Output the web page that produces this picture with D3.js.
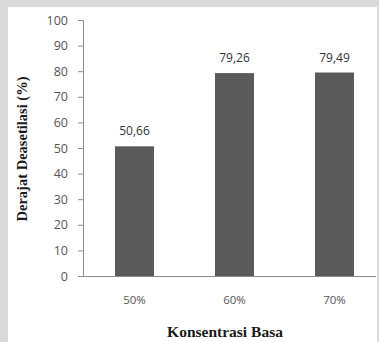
<!DOCTYPE html>
<html>
<head>
<meta charset="utf-8">
<script src="https://cdn.jsdelivr.net/npm/d3@7"></script>
<style>
  html, body { margin: 0; padding: 0; background: #ffffff; }
  svg { display: block; }
</style>
</head>
<body>
<svg id="chart" width="379" height="342"></svg>
<script>
// Degree of deacetylation per base concentration
const categories = ["50%", "60%", "70%"];
const values = [50.66, 79.26, 79.49];
const valueLabels = ["50,66", "79,26", "79,49"];
const yTicks = [0, 10, 20, 30, 40, 50, 60, 70, 80, 90, 100];

const svg = d3.select("#chart");
const W = 379, H = 342;

// page frame
svg.append("rect").attr("width", W).attr("height", H).attr("fill", "#d9d9d9");
svg.append("rect").attr("x", 8).attr("y", 7).attr("width", W - 10).attr("height", H - 7).attr("fill", "#ffffff");

const axisX = 83, y0 = 276, y100 = 20;

const y = d3.scaleLinear().domain([0, 100]).range([y0, y100]);
const x = d3.scaleBand().domain(categories)
  .range([84.5, 384.5]).paddingInner(0.61).paddingOuter(0.305);

// bars
svg.append("g").selectAll("rect").data(values).join("rect")
  .attr("x", (d, i) => x(categories[i]))
  .attr("y", d => y(d))
  .attr("width", x.bandwidth())
  .attr("height", d => y0 - y(d))
  .attr("fill", "#5a5a5a");

// y axis
const yAxis = svg.append("g").attr("transform", `translate(${axisX},0)`)
  .call(d3.axisLeft(y).tickValues(yTicks).tickSize(5).tickPadding(10).tickFormat(d3.format("d")));
yAxis.select(".domain").attr("stroke", "#8c8c8c");
yAxis.selectAll(".tick line").attr("stroke", "#8c8c8c");
yAxis.selectAll("text").attr("fill", "#555").style("font-family", "'Open Sans', sans-serif").style("font-size", "12.5px");

// x axis baseline
const xAxis = svg.append("g").attr("transform", `translate(0,${y0})`)
  .call(d3.axisBottom(x).tickSize(0).tickPadding(20));
xAxis.select(".domain").attr("d", `M${axisX},0.5H376`).attr("stroke", "#8c8c8c");
xAxis.selectAll("text").attr("fill", "#555").style("font-family", "'Open Sans', sans-serif").style("font-size", "11.5px");

// value labels
svg.append("g").selectAll("text").data(values).join("text")
  .attr("x", (d, i) => x(categories[i]) + x.bandwidth() / 2)
  .attr("y", d => y(d) - 11)
  .attr("text-anchor", "middle")
  .attr("fill", "#333")
  .style("font-family", "'Open Sans', sans-serif")
  .style("font-size", "12px")
  .text((d, i) => valueLabels[i]);

// axis titles
svg.append("text")
  .attr("x", 225).attr("y", 337)
  .attr("text-anchor", "middle")
  .attr("fill", "#1a1a1a")
  .style("font-family", "'Liberation Serif', serif")
  .style("font-weight", "bold")
  .style("font-size", "15.5px")
  .text("Konsentrasi Basa");

svg.append("text")
  .attr("transform", `translate(27,149) rotate(-90)`)
  .attr("text-anchor", "middle")
  .attr("fill", "#1a1a1a")
  .style("font-family", "'Liberation Serif', serif")
  .style("font-weight", "bold")
  .style("font-size", "14.5px")
  .text("Derajat Deasetilasi (%)");
</script>
</body>
</html>
